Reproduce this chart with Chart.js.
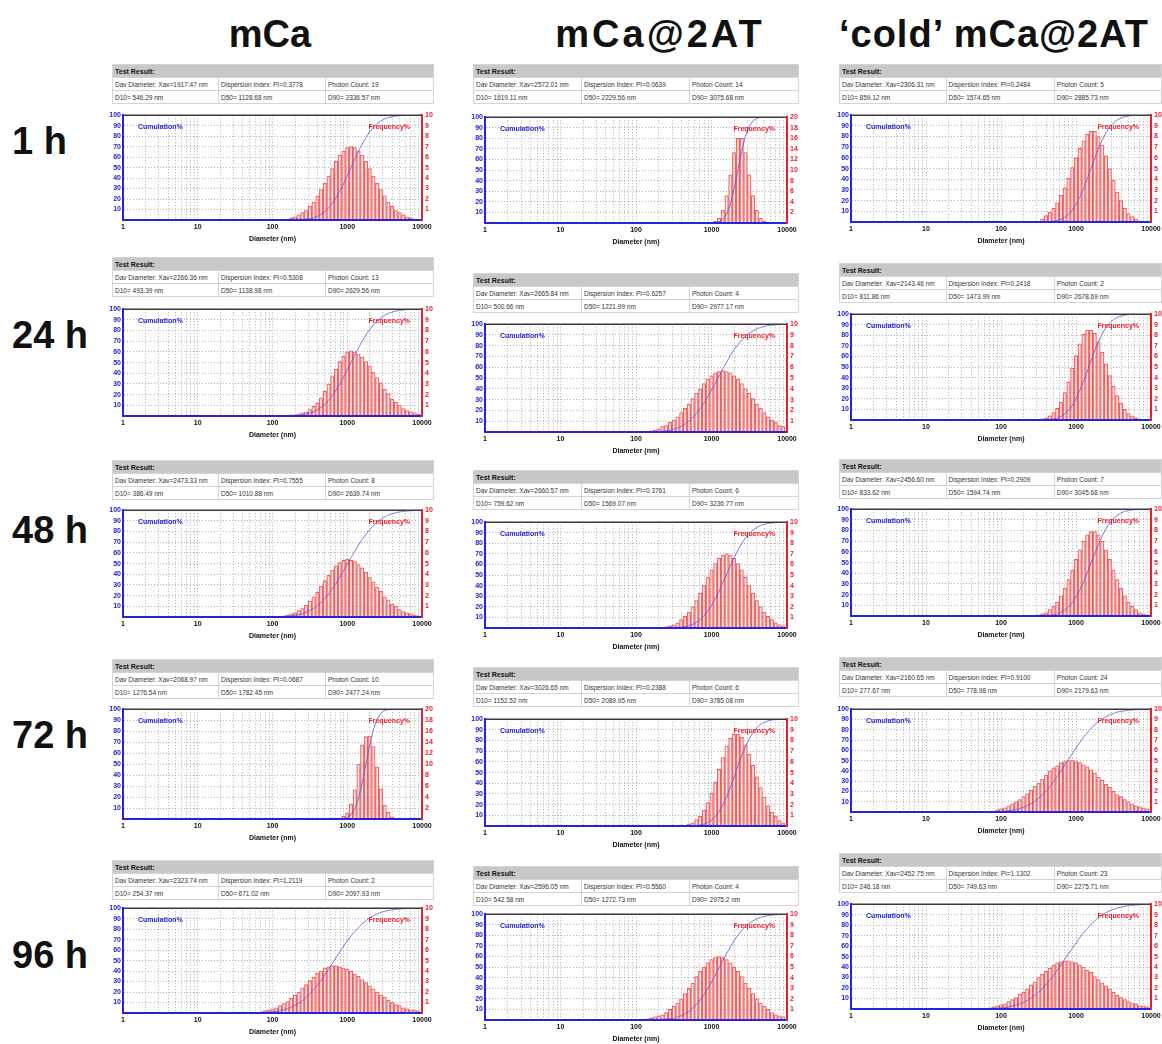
<!DOCTYPE html>
<html>
<head>
<meta charset="utf-8">
<title>Particle size distribution, mCa / mCa@2AT / cold mCa@2AT</title>
<script src="https://cdn.jsdelivr.net/npm/chart.js@4.4.0/dist/chart.umd.min.js"></script>
<style>
  html, body { margin: 0; padding: 0; background: #fff; }
  #page { position: relative; width: 1162px; height: 1044px; overflow: hidden;
          font-family: "Liberation Sans", Arial, sans-serif; }
  .big { position: absolute; font-weight: bold; font-size: 38px; line-height: 38px;
         color: #111; white-space: nowrap; }
  .res { position: absolute; border-collapse: collapse; table-layout: fixed;
         font-size: 6.5px; color: #333; }
  .res td { border: 1px solid #d4d4d4; height: 12px; padding: 0 0 0 2px;
            white-space: nowrap; overflow: hidden; }
  .res tr.hd td { background: #c8c8c8; color: #111; font-weight: bold; font-size: 7px; }
  canvas.psd { position: absolute; }
</style>
</head>
<body>
<div id="page"></div>
<script>
// Size bins (nm), 20 per decade, shared by all panels
const bins = [56.2, 63.1, 70.8, 79.4, 89.1, 100, 112.2, 125.9, 141.3, 158.5,
              177.8, 199.5, 223.9, 251.2, 281.8, 316.2, 354.8, 398.1, 446.7, 501.2,
              562.3, 631.0, 707.9, 794.3, 891.3, 1000, 1122, 1259, 1413, 1585,
              1778, 1995, 2239, 2512, 2818, 3162, 3548, 3981, 4467, 5012,
              5623, 6310, 7079, 7943, 8913];

const xTickValues = [1, 10, 100, 1000, 10000];
const xTickLabels = ['1', '10', '100', '1000', '10000'];

const columnTitles = ['mCa', 'mCa@2AT', '\u2018cold\u2019 mCa@2AT'];
const rowTitles = ['1 h', '24 h', '48 h', '72 h', '96 h'];

// Frequency% (bars) and Cumulation% (line)
const freqMCa1h = [0,0,0,0,0,0,0,0,0,0, 0.2,0.3,0.5,0.7,0.9,1.3,1.7,2.3,2.9,3.5, 4.2,4.9,5.6,6.2,6.6,6.9,7.0,6.9,6.6,6.2, 5.6,4.9,4.2,3.5,2.9,2.3,1.7,1.3,0.9,0.7, 0.5,0.3,0.2,0,0];
const cumMCa1h  = [0,0,0,0,0,0,0,0,0,0, 0,0.1,0.3,0.5,0.8,1.4,2.3,3.6,5.5,8.1, 11.5,15.9,21.2,27.4,34.5,42.1,50,57.9,65.5,72.6, 78.8,84.1,88.5,91.9,94.5,96.4,97.7,98.6,99.2,99.5, 99.7,99.9,100,100,100];

const freqAT1h = [0,0,0,0,0,0,0,0,0,0, 0,0,0,0,0,0,0,0,0,0, 0,0,0,0,0,0,0.3,0.9,2.4,5.2, 9.1,13.3,16.0,16.0,13.3,9.1,5.2,2.4,0.9,0.3, 0,0,0,0,0];
const cumAT1h  = [0,0,0,0,0,0,0,0,0,0, 0,0,0,0,0,0,0,0,0,0, 0,0,0,0,0,0,0.3,1.2,3.4,8.7, 18.1,32.5,50,67.5,81.9,91.3,96.6,98.8,99.7,100, 100,100,100,100,100];

const freqCold1h = [0,0,0,0,0,0,0,0,0,0, 0,0,0,0,0,0,0.3,0.6,0.9,1.3, 1.8,2.5,3.2,4.1,5.1,6.0,6.9,7.6,8.2,8.5, 8.5,8.0,7.2,6.2,5.0,3.9,2.8,2.0,1.3,0.8, 0.5,0.3,0.1,0,0];
const cumCold1h  = [0,0,0,0,0,0,0,0,0,0, 0,0,0,0,0,0,0,0.2,0.4,0.7, 1.4,2.6,4.4,7.2,11.1,16.5,23.2,31.2,40.4,50, 59.6,68.8,76.8,83.5,88.9,92.8,95.6,97.4,98.6,99.3, 99.6,99.8,100,100,100];

const freqMCa24h = [0,0,0,0,0,0,0,0,0,0, 0.1,0.1,0.2,0.3,0.4,0.6,0.9,1.2,1.7,2.3, 3.0,3.7,4.4,5.1,5.6,6.0,6.1,6.0,5.8,5.5, 5.1,4.7,4.1,3.6,3.1,2.5,2.1,1.6,1.3,1.0, 0.7,0.5,0.4,0.3,0.2];
const cumMCa24h  = [0,0,0,0,0,0,0,0,0,0, 0.2,0.4,0.7,1.1,1.8,2.7,4.0,5.7,8.1,10.9, 14.7,19.0,24.2,29.9,36.3,43.1,50,56.9,63.7,70.1, 75.8,81.0,85.3,89.1,91.9,94.3,96.0,97.3,98.2,98.9, 99.3,99.6,99.8,99.9,100];

const freqAT24h = [0,0,0,0,0,0,0,0,0,0.1, 0.2,0.3,0.5,0.6,0.9,1.1,1.4,1.8,2.2,2.6, 3.1,3.6,4.0,4.5,4.9,5.2,5.5,5.6,5.7,5.6, 5.5,5.2,4.9,4.5,4.0,3.6,3.1,2.6,2.2,1.8, 1.4,1.1,0.9,0.6,0.5];
const cumAT24h  = [0,0,0,0,0,0,0,0,0.1,0.2, 0.3,0.4,0.7,1.1,1.7,2.6,3.7,5.3,7.4,10.0, 13.1,17.1,21.8,26.8,32.6,38.9,45.2,52.0,58.7,64.8, 70.9,76.4,81.1,85.3,88.9,91.6,93.9,95.7,97.0,98.0, 98.7,99.1,99.5,99.7,99.8];

const freqCold24h = [0,0,0,0,0,0,0,0,0,0, 0,0,0,0,0,0,0.1,0.2,0.4,0.7, 1.1,1.7,2.6,3.6,4.9,6.1,7.2,8.1,8.5,8.5, 8.2,7.4,6.4,5.3,4.2,3.2,2.3,1.6,1.0,0.6, 0.4,0.2,0.1,0,0];
const cumCold24h  = [0,0,0,0,0,0,0,0,0,0, 0,0,0,0,0,0,0.1,0.25,0.5,1.0, 1.9,3.4,5.7,9.2,13.8,20.0,27.8,36.3,46.0,56.0, 65.5,73.9,81.3,87.3,91.6,94.8,97.0,98.3,99.1,99.6, 99.8,100,100,100,100];

const freqMCa48h = [0,0,0,0,0,0,0,0,0.1,0.2, 0.3,0.4,0.6,0.8,1.1,1.5,1.9,2.3,2.9,3.4, 3.9,4.4,4.8,5.1,5.3,5.4,5.3,5.2,4.9,4.6, 4.2,3.7,3.3,2.8,2.4,1.9,1.6,1.2,1.0,0.7, 0.5,0.4,0.3,0.2,0.1];
const cumMCa48h  = [0,0,0,0,0,0.1,0.2,0.3,0.4,0.7, 1.0,1.5,2.2,3.1,4.4,6.0,8.1,10.6,13.8,17.4, 21.7,26.4,31.6,37.4,43.2,49.4,55.6,61.4,67.4,72.6, 77.4,81.9,85.5,88.9,91.5,93.6,95.4,96.6,97.6,98.4, 98.9,99.3,99.5,99.7,99.8];

const freqAT48h = [0,0,0,0,0,0,0,0,0,0, 0,0,0,0.1,0.2,0.3,0.5,0.8,1.1,1.5, 2.0,2.6,3.3,4.0,4.8,5.5,6.1,6.6,6.9,7.0, 6.9,6.6,6.1,5.5,4.8,4.0,3.3,2.6,2.0,1.5, 1.1,0.8,0.5,0.3,0.2];
const cumAT48h  = [0,0,0,0,0,0,0,0,0,0, 0,0,0,0.1,0.1,0.2,0.4,0.8,1.3,2.2, 3.4,5.4,7.9,11.5,15.9,21.3,27.8,34.8,42.8,50.8, 58.8,66.6,73.6,79.9,85.1,89.3,92.6,95.1,96.9,98.0, 98.8,99.3,99.6,99.8,99.9];

const freqCold48h = [0,0,0,0,0,0,0,0,0,0, 0,0,0,0,0,0.1,0.2,0.3,0.6,0.9, 1.3,1.9,2.6,3.4,4.3,5.3,6.2,7.0,7.6,7.9, 7.9,7.6,7.0,6.2,5.3,4.3,3.4,2.6,1.9,1.3, 0.9,0.6,0.3,0.2,0.1];
const cumCold48h  = [0,0,0,0,0,0,0,0,0,0, 0,0,0,0,0,0.1,0.15,0.3,0.6,1.1, 2.0,3.4,5.5,8.4,12.5,17.9,24.2,31.9,40.5,49.6, 58.3,67.0,74.9,81.6,86.9,91.2,94.3,96.4,97.9,98.8, 99.4,99.7,99.8,99.9,100];

const freqMCa72h = [0,0,0,0,0,0,0,0,0,0, 0,0,0,0,0,0,0,0,0,0, 0,0,0,0,0.5,1.1,2.7,5.3,10.0,13.5, 15.0,15.1,13.2,9.5,5.5,2.5,1.2,0.4,0,0, 0,0,0,0,0];
const cumMCa72h  = [0,0,0,0,0,0,0,0,0,0, 0,0,0,0,0,0,0,0,0,0, 0,0,0,0.1,0.4,1.3,3.8,9.2,18.7,33.0, 50,67.0,81.3,90.8,96.2,98.7,99.6,99.9,100,100, 100,100,100,100,100];

const freqAT72h = [0,0,0,0,0,0,0,0,0,0, 0,0,0,0,0,0,0,0,0,0.2, 0.3,0.6,0.9,1.5,2.2,3.1,4.1,5.3,6.4,7.5, 8.2,8.6,8.6,8.3,7.6,6.7,5.7,4.6,3.6,2.7, 1.9,1.3,0.9,0.5,0.3];
const cumAT72h  = [0,0,0,0,0,0,0,0,0,0, 0,0,0,0,0,0,0,0,0,0.1, 0.2,0.5,0.9,1.8,3.2,5.5,8.9,13.6,19.8,27.4, 36.3,46.0,56.0,65.5,74.2,81.6,87.5,91.9,95.1,97.1, 98.4,99.2,99.6,99.8,99.9];

const freqCold72h = [0,0,0.1,0.1,0.2,0.3,0.4,0.6,0.8,1.0, 1.2,1.5,1.8,2.1,2.5,2.8,3.2,3.6,4.0,4.3, 4.5,4.8,4.9,5.0,5.0,4.9,4.8,4.6,4.4,4.1, 3.8,3.4,3.1,2.7,2.4,2.0,1.7,1.5,1.2,1.0, 0.8,0.6,0.5,0.4,0.3];
const cumCold72h  = [0,0,0.15,0.2,0.4,0.6,0.8,1.2,1.7,2.4, 3.4,4.6,6.2,8.1,10.4,13.3,16.6,20.3,24.5,29.5, 34.5,39.7,45.6,51.2,56.7,62.2,67.7,72.6,77.0,81.3, 84.8,87.9,90.5,92.8,94.5,95.9,97.1,97.9,98.5,99.0, 99.3,99.5,99.7,99.8,99.9];

const freqMCa96h = [0,0,0.1,0.2,0.3,0.4,0.5,0.7,0.9,1.1, 1.4,1.7,2.0,2.4,2.7,3.1,3.4,3.8,4.0,4.3, 4.4,4.5,4.5,4.4,4.3,4.2,4.0,3.7,3.5,3.2, 2.9,2.6,2.3,2.0,1.7,1.5,1.2,1.0,0.8,0.7, 0.5,0.4,0.3,0.3,0.2];
const cumMCa96h  = [0,0.1,0.3,0.5,0.8,1.1,1.6,2.2,3.0,4.1, 5.5,7.2,9.3,11.9,14.9,18.4,22.3,26.6,31.2,36.3, 41.7,47.2,52.8,58.3,63.7,68.8,73.4,77.7,81.6,85.1, 88.1,90.7,92.8,94.5,95.9,97.0,97.8,98.4,98.9,99.2, 99.5,99.7,99.8,99.9,100];

const freqAT96h = [0,0,0,0,0,0,0,0,0.1,0.2, 0.3,0.4,0.5,0.7,1.0,1.3,1.6,2.0,2.5,3.0, 3.5,4.1,4.6,5.0,5.4,5.7,5.9,6.0,5.9,5.7, 5.4,5.0,4.6,4.1,3.5,3.0,2.5,2.0,1.6,1.3, 1.0,0.7,0.5,0.4,0.3];
const cumAT96h  = [0,0,0,0,0,0,0,0,0.1,0.1, 0.2,0.3,0.5,0.8,1.2,1.8,2.8,4.1,5.8,8.1, 11.1,14.7,18.9,23.9,29.8,35.9,42.5,49.3,56.2,62.9, 69.1,74.9,80.1,84.6,88.3,91.3,93.7,95.6,97.0,98.0, 98.7,99.2,99.5,99.7,99.8];

const freqCold96h = [0,0,0.1,0.2,0.3,0.4,0.5,0.7,0.9,1.1, 1.4,1.6,1.9,2.3,2.6,3.0,3.3,3.6,3.9,4.2, 4.4,4.5,4.6,4.6,4.5,4.4,4.2,4.0,3.7,3.5, 3.1,2.8,2.5,2.2,1.9,1.6,1.3,1.1,0.9,0.7, 0.6,0.5,0.3,0.3,0.2];
const cumCold96h  = [0,0.2,0.3,0.5,0.7,1.0,1.4,1.9,2.7,3.6, 4.8,6.3,8.1,10.2,12.9,15.9,19.2,23.3,27.4,31.9, 37.1,42.1,47.3,52.7,57.9,62.9,68.1,72.6,76.7,80.8, 84.1,87.1,89.8,91.9,93.7,95.2,96.4,97.3,98.1,98.6, 99.0,99.3,99.5,99.7,99.8];

// Test Result tables: Xav, PI, photon count, D10, D50, D90
const statsMCa  = [['1917.47', '0.3778', '19', '546.29', '1128.68', '2336.57'],
                   ['2266.36', '0.5308', '13', '493.39', '1138.98', '2629.56'],
                   ['2473.33', '0.7555', '8', '386.49', '1010.88', '2639.74'],
                   ['2068.97', '0.0687', '10', '1276.54', '1782.45', '2477.24'],
                   ['2323.74', '1.2119', '2', '254.37', '671.02', '2097.93']];
const statsAT   = [['2572.01', '0.0639', '14', '1619.11', '2229.56', '3075.68'],
                   ['2665.84', '0.6257', '4', '500.66', '1221.99', '2977.17'],
                   ['2660.57', '0.3761', '6', '759.62', '1569.07', '3236.77'],
                   ['3026.65', '0.2388', '6', '1152.52', '2089.95', '3785.08'],
                   ['2596.05', '0.5560', '4', '542.58', '1272.73', '2975.2']];
const statsCold = [['2306.31', '0.2484', '5', '859.12', '1574.65', '2885.73'],
                   ['2143.46', '0.2418', '2', '811.86', '1473.99', '2678.69'],
                   ['2456.60', '0.2909', '7', '833.62', '1594.74', '3045.68'],
                   ['2160.65', '0.9100', '24', '277.67', '778.98', '2179.63'],
                   ['2452.75', '1.1302', '23', '246.18', '749.63', '2275.71']];

// Right (Frequency%) axis maximum per panel [row][col]
const freqAxisMax = [[10, 20, 10], [10, 10, 10], [10, 10, 10], [20, 10, 10], [10, 10, 10]];

const freqSeries = [[freqMCa1h, freqAT1h, freqCold1h], [freqMCa24h, freqAT24h, freqCold24h],
                    [freqMCa48h, freqAT48h, freqCold48h], [freqMCa72h, freqAT72h, freqCold72h],
                    [freqMCa96h, freqAT96h, freqCold96h]];
const cumSeries = [[cumMCa1h, cumAT1h, cumCold1h], [cumMCa24h, cumAT24h, cumCold24h],
                   [cumMCa48h, cumAT48h, cumCold48h], [cumMCa72h, cumAT72h, cumCold72h],
                   [cumMCa96h, cumAT96h, cumCold96h]];
const statsByCol = [statsMCa, statsAT, statsCold];

// ---- layout (pixels) ----
const colGeom = [
  { tableX: 112, cells: [106, 107, 108], plotL: 123, plotR: 422, titleX: 270, spacing: 0 },
  { tableX: 473, cells: [108, 108, 109], plotL: 485, plotR: 787, titleX: 660, spacing: 3 },
  { tableX: 839, cells: [107, 109, 109], plotL: 851, plotR: 1151, titleX: 994, spacing: 1 }
];
// [tableTop, plotTop, plotBottom] per [row][col]
const panelY = [
  [[64, 113, 220], [64, 115, 223], [64, 113, 222]],
  [[257, 307, 416], [273, 322, 432], [263, 312, 420]],
  [[460, 508, 617], [470, 520, 628], [459, 507, 616]],
  [[659, 707, 819], [667, 717, 826], [657, 707, 812]],
  [[860, 906, 1013], [866, 912, 1020], [853, 902, 1009]]
];
const rowLabelY = [141, 335, 530, 735, 955];

const AX_L = 16, AX_R = 14, PAD_T = 5, AX_B = 24;
const FONT = '"Liberation Sans", Arial, sans-serif';
const BLUE = '#2424e0', BLUE_TXT = '#1d1dcc', RED = '#e8202a';

Chart.defaults.font.family = FONT;

const xGrid = [];
for (let e = 0; e < 4; e++) {
  for (let m = 1; m <= 9; m++) xGrid.push(m * Math.pow(10, e));
}
xGrid.push(10000);

const frameDecor = {
  id: 'frameDecor',
  afterDatasetsDraw(chart) {
    const { ctx, chartArea: a } = chart;
    ctx.save();
    ctx.strokeStyle = '#3a3a3a';
    ctx.lineWidth = 1.5;
    ctx.beginPath();
    ctx.moveTo(a.left, a.top);
    ctx.lineTo(a.right, a.top);
    ctx.stroke();
    ctx.font = `bold 7px ${FONT}`;
    ctx.textBaseline = 'middle';
    ctx.fillStyle = BLUE_TXT;
    ctx.textAlign = 'left';
    ctx.fillText('Cumulation%', a.left + 15, a.top + 12);
    ctx.fillStyle = RED;
    ctx.textAlign = 'right';
    ctx.fillText('Frequency%', a.right - 12, a.top + 12);
    ctx.restore();
  }
};

const page = document.getElementById('page');

function addText(text, x, y, center, spacing) {
  const d = document.createElement('div');
  d.className = 'big';
  d.textContent = text;
  d.style.top = (y - 19) + 'px';
  if (spacing) d.style.letterSpacing = spacing + 'px';
  if (center) {
    d.style.left = (x - 200) + 'px';
    d.style.width = '400px';
    d.style.textAlign = 'center';
  } else {
    d.style.left = x + 'px';
  }
  page.appendChild(d);
}

function buildTable(s, g, top) {
  const t = document.createElement('table');
  t.className = 'res';
  t.style.left = g.tableX + 'px';
  t.style.top = top + 'px';
  const cols = g.cells.map(w => `<col style="width:${w}px">`).join('');
  t.innerHTML = `<colgroup>${cols}</colgroup>
    <tr class="hd"><td colspan="3">Test Result:</td></tr>
    <tr><td>Dav Diameter: Xav=${s[0]} nm</td><td>Dispersion Index: PI=${s[1]}</td><td>Photon Count: ${s[2]}</td></tr>
    <tr><td>D10= ${s[3]} nm</td><td>D50= ${s[4]} nm</td><td>D90= ${s[5]} nm</td></tr>`;
  page.appendChild(t);
}

function buildChart(freq, cum, fMax, g, plotTop, plotBottom) {
  const canvas = document.createElement('canvas');
  canvas.className = 'psd';
  const w = g.plotR - g.plotL + AX_L + AX_R;
  const h = plotBottom - plotTop + PAD_T + AX_B;
  canvas.width = w;
  canvas.height = h;
  canvas.style.width = w + 'px';
  canvas.style.height = h + 'px';
  canvas.style.left = (g.plotL - AX_L) + 'px';
  canvas.style.top = (plotTop - PAD_T) + 'px';
  page.appendChild(canvas);

  const tickFont = { size: 7, weight: 'bold' };
  new Chart(canvas, {
    type: 'bar',
    data: {
      datasets: [
        {
          type: 'line',
          label: 'Cumulation%',
          data: bins.map((d, i) => ({ x: d, y: cum[i] })),
          yAxisID: 'yL',
          borderColor: 'rgba(90, 90, 225, 0.85)',
          borderWidth: 1,
          pointRadius: 0,
          tension: 0.2,
          order: 0
        },
        {
          type: 'bar',
          label: 'Frequency%',
          data: bins.map((d, i) => ({ x: d, y: freq[i] })),
          yAxisID: 'yR',
          backgroundColor: 'rgba(255, 190, 190, 0.35)',
          borderColor: 'rgba(232, 40, 40, 0.8)',
          borderWidth: 0.6,
          barPercentage: 1,
          categoryPercentage: 1,
          order: 1
        }
      ]
    },
    options: {
      responsive: false,
      animation: false,
      devicePixelRatio: 1,
      layout: { padding: { top: PAD_T, left: 0, right: 0, bottom: 0 } },
      plugins: { legend: { display: false }, tooltip: { enabled: false } },
      scales: {
        x: {
          type: 'logarithmic',
          min: 1,
          max: 10000,
          offset: false,
          afterBuildTicks: s => { s.ticks = xGrid.map(v => ({ value: v })); },
          afterFit: s => { s.height = AX_B; },
          ticks: {
            autoSkip: false, maxRotation: 0, padding: 3, color: '#111', font: tickFont,
            callback: v => {
              const k = xTickValues.indexOf(v);
              return k >= 0 ? xTickLabels[k] : '';
            }
          },
          grid: { offset: false, color: '#a0a0a0', lineWidth: 0.8, drawTicks: false },
          border: { color: BLUE, width: 2, dash: [1, 2], z: 1 },
          title: { display: true, text: 'Diameter (nm)', color: '#111', font: tickFont,
                   padding: { top: 0, bottom: 1 } }
        },
        yL: {
          position: 'left',
          min: 0,
          max: 100,
          afterFit: s => { s.width = AX_L; },
          ticks: { stepSize: 10, autoSkip: false, padding: 2, color: BLUE_TXT, font: tickFont,
                   callback: v => (v === 0 ? '' : String(v)) },
          grid: { color: '#a0a0a0', lineWidth: 0.8, drawTicks: false },
          border: { color: BLUE, width: 2, dash: [1, 2], z: 1 }
        },
        yR: {
          position: 'right',
          min: 0,
          max: fMax,
          afterFit: s => { s.width = AX_R; },
          ticks: { stepSize: fMax / 10, autoSkip: false, padding: 3, color: RED, font: tickFont,
                   callback: v => (v === 0 ? '' : String(v)) },
          grid: { drawOnChartArea: false, drawTicks: false },
          border: { color: RED, width: 2, z: 1 }
        }
      }
    },
    plugins: [frameDecor]
  });
}

columnTitles.forEach((t, c) => addText(t, colGeom[c].titleX, 34, true, colGeom[c].spacing));
rowTitles.forEach((t, r) => addText(t, 12, rowLabelY[r], false, 0));

for (let r = 0; r < 5; r++) {
  for (let c = 0; c < 3; c++) {
    const [tableTop, plotTop, plotBottom] = panelY[r][c];
    buildTable(statsByCol[c][r], colGeom[c], tableTop);
    buildChart(freqSeries[r][c], cumSeries[r][c], freqAxisMax[r][c], colGeom[c], plotTop, plotBottom);
  }
}
</script>
</body>
</html>
